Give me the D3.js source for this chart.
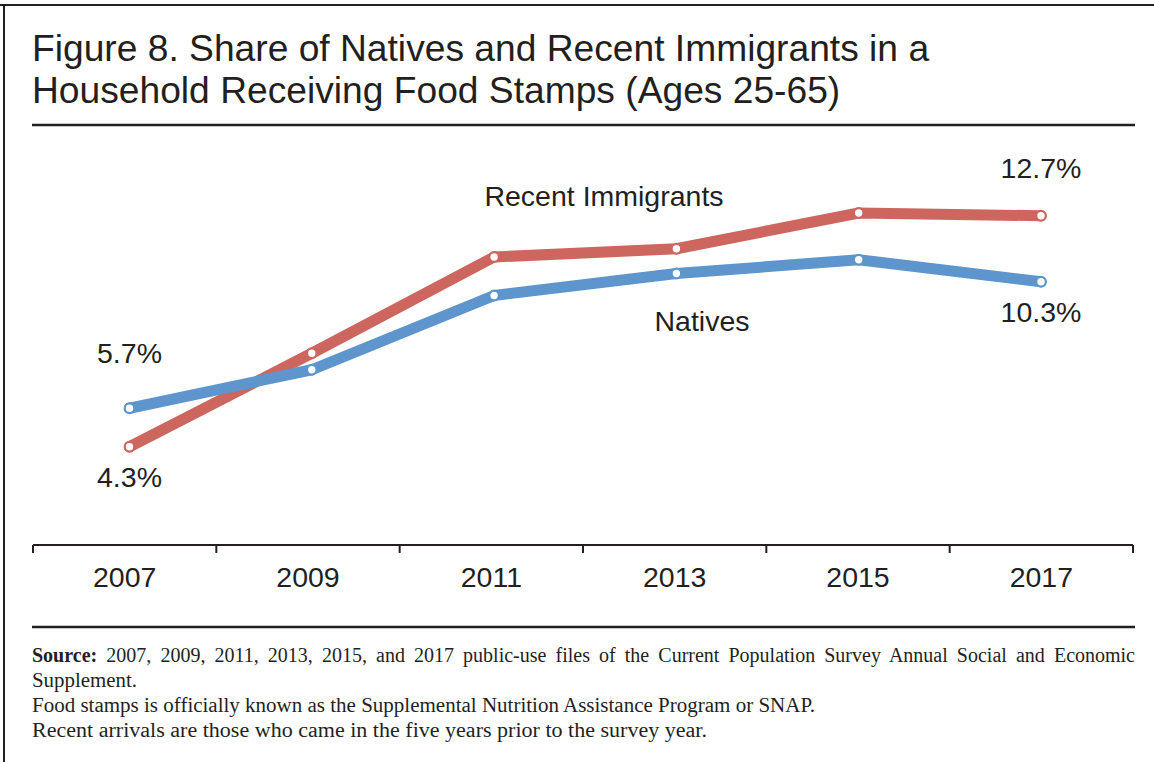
<!DOCTYPE html>
<html>
<head>
<meta charset="utf-8">
<script src="https://cdn.jsdelivr.net/npm/d3@7"></script>
<style>
  body { margin: 0; background: #fff; }
  svg { display: block; }
</style>
</head>
<body>
<svg id="chart" width="1154" height="762"></svg>
<script>
// ---- data ----
const years = ["2007", "2009", "2011", "2013", "2015", "2017"];
const recentImmigrants = [4.3, 7.7, 11.2, 11.5, 12.8, 12.7];
const natives = [5.7, 7.1, 9.8, 10.6, 11.1, 10.3];
const seriesNames = ["Recent Immigrants", "Natives"];
const titleLines = [
  "Figure 8. Share of Natives and Recent Immigrants in a",
  "Household Receiving Food Stamps (Ages 25-65)"
];
const sourceLabel = "Source:";
const noteLines = [
  " 2007, 2009, 2011, 2013, 2015, and 2017 public-use files of the Current Population Survey Annual Social and Economic",
  "Supplement.",
  "Food stamps is officially known as the Supplemental Nutrition Assistance Program or SNAP.",
  "Recent arrivals are those who came in the five years prior to the survey year."
];

// ---- styles ----
const ink = "#231f20";
const red = "#cd665f";
const blue = "#5d95cc";
const sans = "'Liberation Sans', Arial, Helvetica, sans-serif";
const serif = "'Liberation Serif', 'Times New Roman', serif";
const labelSize = 28.5;

const svg = d3.select("#chart");

// frame
svg.append("line").attr("x1", 0).attr("x2", 1154).attr("y1", 5).attr("y2", 5)
  .attr("stroke", ink).attr("stroke-width", 2);
svg.append("line").attr("x1", 4).attr("x2", 4).attr("y1", 4).attr("y2", 762)
  .attr("stroke", ink).attr("stroke-width", 2);

// title
svg.append("g").selectAll("text").data(titleLines).join("text")
  .attr("x", 32).attr("y", (d, i) => 61 + i * 42)
  .attr("font-family", sans).attr("font-size", 37.2).attr("fill", ink)
  .text(d => d);

// rules
const ruleX = [32, 1135];
svg.append("line").attr("x1", ruleX[0]).attr("x2", ruleX[1]).attr("y1", 125).attr("y2", 125)
  .attr("stroke", ink).attr("stroke-width", 2.5);
svg.append("line").attr("x1", ruleX[0]).attr("x2", ruleX[1]).attr("y1", 627).attr("y2", 627)
  .attr("stroke", ink).attr("stroke-width", 2.5);

// ---- scales ----
const xBand = d3.scaleBand().domain(years).range([33, 1133]);
const xPoint = d3.scalePoint().domain(years).range([129.5, 1041]);
const y = d3.scaleLinear().domain([0, 16]).range([565, 125]);

// ---- x axis: baseline with ticks at category boundaries ----
const axisY = 545;
const g = svg.append("g");
g.append("line").attr("x1", 33).attr("x2", 1133).attr("y1", axisY).attr("y2", axisY)
  .attr("stroke", ink).attr("stroke-width", 2);
const bounds = years.map(d => xBand(d)).concat([xBand.range()[1]]);
g.selectAll(".tk").data(bounds).join("line").attr("class", "tk")
  .attr("x1", d => d).attr("x2", d => d).attr("y1", axisY).attr("y2", axisY + 8)
  .attr("stroke", ink).attr("stroke-width", 2);

const xAxis = d3.axisBottom(xBand).tickSize(0).tickPadding(0);
const ax = svg.append("g").attr("transform", `translate(0,${axisY + 42})`).call(xAxis);
ax.select(".domain").remove();
ax.selectAll("text").attr("font-family", sans).attr("font-size", labelSize).attr("fill", ink)
  .attr("dy", 0);

// ---- lines ----
const line = d3.line().x((d, i) => xPoint(years[i])).y(d => y(d));
const series = [
  { name: seriesNames[0], values: recentImmigrants, color: red },
  { name: seriesNames[1], values: natives, color: blue }
];
series.forEach(s => {
  svg.append("path").datum(s.values).attr("d", line)
    .attr("fill", "none").attr("stroke", s.color).attr("stroke-width", 11)
    .attr("stroke-linejoin", "round").attr("stroke-linecap", "round");
});
series.forEach(s => {
  svg.append("g").selectAll("circle").data(s.values).join("circle")
    .attr("cx", (d, i) => xPoint(years[i])).attr("cy", d => y(d))
    .attr("r", 4.8).attr("fill", "#fff").attr("stroke", s.color).attr("stroke-width", 2.2);
});

// ---- labels ----
const lab = (x, yy, t) => svg.append("text").attr("x", x).attr("y", yy)
  .attr("text-anchor", "middle").attr("font-family", sans).attr("font-size", labelSize)
  .attr("fill", ink).text(t);
const fmt = v => v.toFixed(1) + "%";
const last = years.length - 1;
lab(xPoint(years[last]), y(recentImmigrants[last]) - 38, fmt(recentImmigrants[last]));
lab(xPoint(years[last]), y(natives[last]) + 40, fmt(natives[last]));
lab(xPoint(years[0]), y(natives[0]) - 45, fmt(natives[0]));
lab(xPoint(years[0]), y(recentImmigrants[0]) + 40, fmt(recentImmigrants[0]));
lab(604, 206, seriesNames[0]);
lab(702, 331, seriesNames[1]);

// ---- notes ----
const notes = svg.append("g").attr("font-family", serif).attr("font-size", 20).attr("fill", ink);
const first = notes.append("text").attr("x", 32).attr("y", 662);
first.append("tspan").attr("font-weight", "bold").text(sourceLabel);
first.append("tspan").text(noteLines[0]);
// justify the first line across the rule width
const natural = first.node().getComputedTextLength();
const spaces = (sourceLabel + noteLines[0]).split(" ").length - 1;
first.attr("word-spacing", (ruleX[1] - 32 - natural) / spaces);
// remaining lines, set to their typeset widths
const noteWidths = [105, 783, 675];
noteLines.slice(1).forEach((t, i) => {
  notes.append("text").attr("x", 32).attr("y", 687 + i * 25)
    .attr("textLength", noteWidths[i]).attr("lengthAdjust", "spacingAndGlyphs").text(t);
});
</script>
</body>
</html>
